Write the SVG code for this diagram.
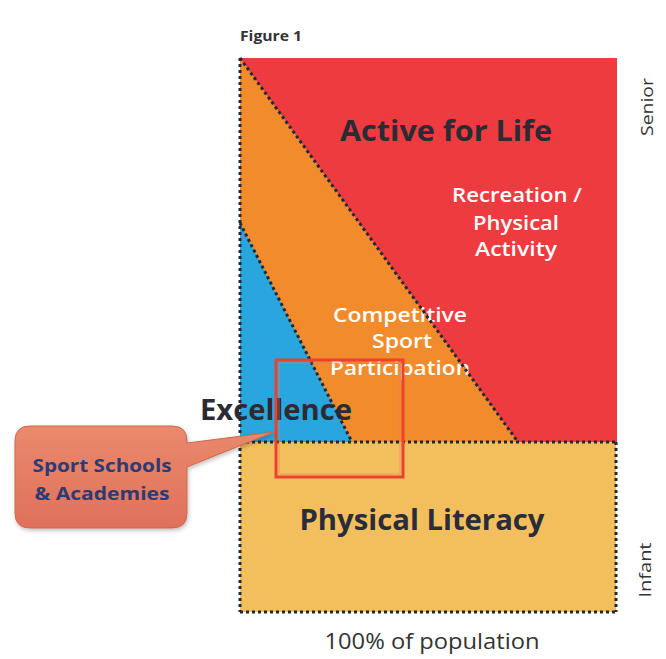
<svg xmlns="http://www.w3.org/2000/svg" width="666" height="659" viewBox="0 0 666 659">
<style>
.t{font-family:"Open Sans","Liberation Sans",sans-serif}
.b{font-weight:bold}
.dark{fill:#2a2b33}
.w{fill:#ffffff;font-weight:600}
.dot{stroke:#1f2838;stroke-width:3;stroke-dasharray:3 3;fill:none}
</style>
<defs>
<linearGradient id="cg" x1="0" y1="0" x2="0" y2="1">
<stop offset="0" stop-color="#ea8a6c"/>
<stop offset="1" stop-color="#e0705a"/>
</linearGradient>
<filter id="sh" x="-10%" y="-10%" width="130%" height="130%">
<feDropShadow dx="1" dy="2" stdDeviation="2" flood-color="#000" flood-opacity="0.25"/>
</filter>
</defs>
<rect width="666" height="659" fill="#ffffff"/>
<text class="t b" x="240" y="41" font-size="14" fill="#333" textLength="62" lengthAdjust="spacingAndGlyphs">Figure 1</text>

<g id="active-for-life">
<rect x="240" y="58" width="377" height="384" fill="#ee3b3f"/>
<text class="t b dark" x="446" y="141" font-size="29" text-anchor="middle" textLength="212" lengthAdjust="spacingAndGlyphs">Active for Life</text>
<text class="t w" x="517" y="202" font-size="20" text-anchor="middle" textLength="130" lengthAdjust="spacingAndGlyphs">Recreation /</text>
<text class="t w" x="516" y="230" font-size="20" text-anchor="middle" textLength="86" lengthAdjust="spacingAndGlyphs">Physical</text>
<text class="t w" x="516" y="256" font-size="20" text-anchor="middle" textLength="82" lengthAdjust="spacingAndGlyphs">Activity</text>
</g>
<g id="competitive">
<polygon points="240,58 518,442 240,442" fill="#f28b2b"/>
<text class="t w" x="400" y="322" font-size="20" text-anchor="middle" textLength="134" lengthAdjust="spacingAndGlyphs">Competitive</text>
<text class="t w" x="402" y="348" font-size="20" text-anchor="middle" textLength="60" lengthAdjust="spacingAndGlyphs">Sport</text>
<text class="t w" x="400" y="375" font-size="20" text-anchor="middle" textLength="140" lengthAdjust="spacingAndGlyphs">Participation</text>
</g>
<g id="excellence">
<polygon points="240,223 352,442 240,442" fill="#2aa6de"/>
<text class="t b dark" x="200" y="420" font-size="28" textLength="152" lengthAdjust="spacingAndGlyphs">Excellence</text>
</g>
<g id="physical-literacy">
<rect x="240" y="442" width="376" height="170" fill="#f3bf5c"/>
<text class="t b" x="422" y="530" font-size="28" fill="#2a2c3c" text-anchor="middle" textLength="245" lengthAdjust="spacingAndGlyphs">Physical Literacy</text>
</g>
<g id="connectors">
<line class="dot" x1="240" y1="58" x2="240" y2="612"/>
<line class="dot" x1="240" y1="58" x2="518" y2="442"/>
<line class="dot" x1="240" y1="223" x2="352" y2="442"/>
<line class="dot" x1="240" y1="442" x2="616" y2="442"/>
<line class="dot" x1="616" y1="442" x2="616" y2="612"/>
<line class="dot" x1="240" y1="612" x2="616" y2="612"/>
</g>
<g id="highlight">
<rect x="276" y="360" width="127" height="117" fill="none" stroke="#e8432e" stroke-width="3"/>
<rect x="279" y="363" width="121" height="111" fill="none" stroke="#f07a5a" stroke-width="1" opacity="0.6"/>
</g>
<g id="sport-schools">
<path d="M30,426 H172 Q187,426 187,441 V443 L274,432 L187,467 V513 Q187,528 172,528 H30 Q15,528 15,513 V441 Q15,426 30,426 Z" fill="url(#cg)" stroke="#d0664d" stroke-width="1" filter="url(#sh)"/>
<text class="t b" x="102" y="472" font-size="17" fill="#2e3a72" text-anchor="middle" textLength="139" lengthAdjust="spacingAndGlyphs">Sport Schools</text>
<text class="t b" x="102" y="500" font-size="17" fill="#2e3a72" text-anchor="middle" textLength="135" lengthAdjust="spacingAndGlyphs">&amp; Academies</text>
</g>
<text class="t" x="0" y="0" font-size="16" fill="#333" text-anchor="middle" transform="translate(653,107) rotate(-90)" textLength="58" lengthAdjust="spacingAndGlyphs">Senior</text>
<text class="t" x="0" y="0" font-size="16" fill="#333" text-anchor="middle" transform="translate(651,570) rotate(-90)" textLength="55" lengthAdjust="spacingAndGlyphs">Infant</text>
<text class="t" x="432" y="649" font-size="21" fill="#333" text-anchor="middle" textLength="215" lengthAdjust="spacingAndGlyphs">100% of population</text>
</svg>
